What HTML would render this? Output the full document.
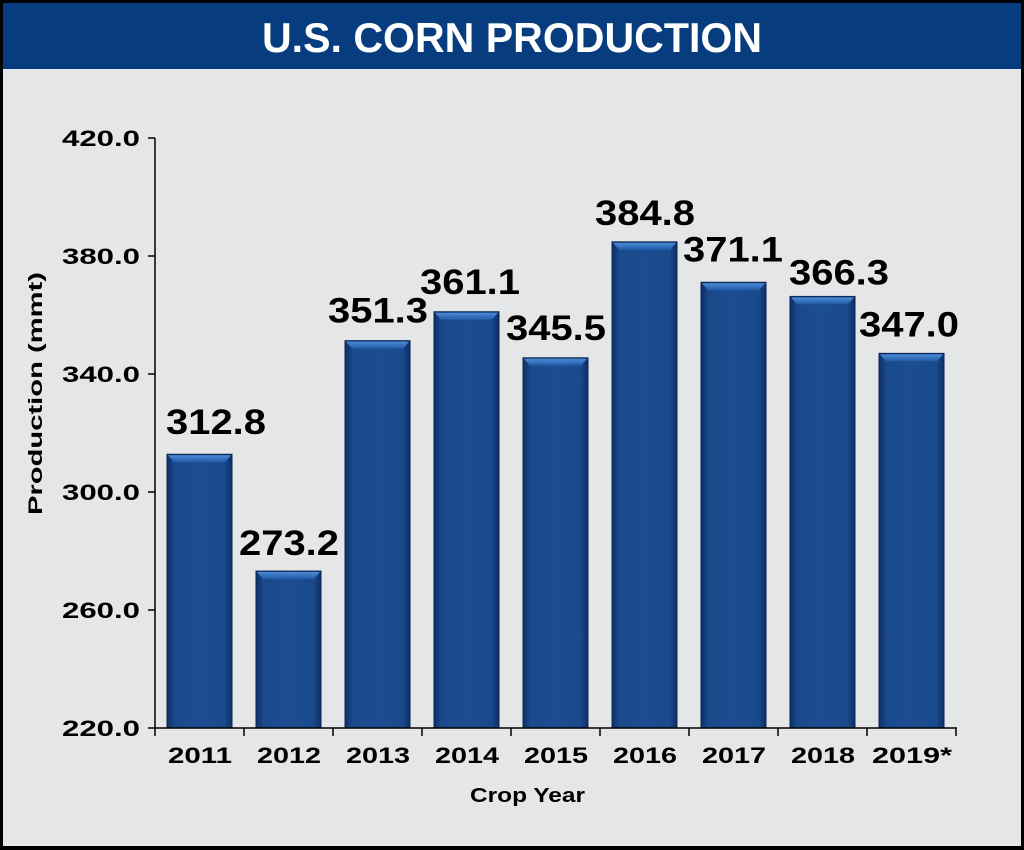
<!DOCTYPE html>
<html><head><meta charset="utf-8"><style>
body{margin:0;width:1024px;height:850px;overflow:hidden;background:#fff}
svg{display:block}
text{font-family:"Liberation Sans",Arial,sans-serif;font-weight:bold}
</style></head><body>
<svg width="1024" height="850" viewBox="0 0 1024 850">
<defs>
<linearGradient id="bg" x1="0" x2="1" y1="0" y2="0">
<stop offset="0" stop-color="#0e2f66"/><stop offset="0.12" stop-color="#1a4a8c"/>
<stop offset="0.5" stop-color="#1c4d91"/><stop offset="0.88" stop-color="#1a4a8c"/><stop offset="1" stop-color="#0e2f66"/>
</linearGradient>
<linearGradient id="tp" x1="0" x2="0" y1="0" y2="1">
<stop offset="0" stop-color="#4d8ad6"/><stop offset="1" stop-color="#1f5aa6"/>
</linearGradient>
</defs>
<rect x="0" y="0" width="1024" height="850" fill="#000"/>
<rect x="3" y="3" width="1018" height="843" fill="#e5e6e8"/>
<rect x="3" y="3" width="1018" height="66" fill="#073d7e"/>
<text x="262" y="52" font-size="42" fill="#fff" textLength="500" lengthAdjust="spacingAndGlyphs">U.S. CORN PRODUCTION</text>
<g id="bars"></g>
<line x1="155" y1="138" x2="155" y2="728" stroke="#000" stroke-width="1.5"/>
<line x1="148" y1="728" x2="957" y2="728" stroke="#000" stroke-width="1.5"/>
<g stroke="#000" stroke-width="1.5">
<line x1="148" y1="138" x2="155" y2="138"/><line x1="148" y1="256" x2="155" y2="256"/>
<line x1="148" y1="374" x2="155" y2="374"/><line x1="148" y1="492" x2="155" y2="492"/>
<line x1="148" y1="610" x2="155" y2="610"/>
<line x1="155" y1="728" x2="155" y2="736"/><line x1="244" y1="728" x2="244" y2="736"/>
<line x1="333" y1="728" x2="333" y2="736"/><line x1="422" y1="728" x2="422" y2="736"/>
<line x1="511" y1="728" x2="511" y2="736"/><line x1="600" y1="728" x2="600" y2="736"/>
<line x1="689" y1="728" x2="689" y2="736"/><line x1="778" y1="728" x2="778" y2="736"/>
<line x1="867" y1="728" x2="867" y2="736"/><line x1="956" y1="728" x2="956" y2="736"/>
</g>
<g font-size="22" fill="#000">
<text x="62" y="146" textLength="78" lengthAdjust="spacingAndGlyphs">420.0</text>
<text x="62" y="264" textLength="78" lengthAdjust="spacingAndGlyphs">380.0</text>
<text x="62" y="382" textLength="78" lengthAdjust="spacingAndGlyphs">340.0</text>
<text x="62" y="500" textLength="78" lengthAdjust="spacingAndGlyphs">300.0</text>
<text x="62" y="618" textLength="78" lengthAdjust="spacingAndGlyphs">260.0</text>
<text x="62" y="736" textLength="78" lengthAdjust="spacingAndGlyphs">220.0</text>
</g>
<text transform="translate(42,515) rotate(-90)" font-size="19" textLength="243" lengthAdjust="spacingAndGlyphs">Production (mmt)</text>
<text x="470" y="802" font-size="20" textLength="115" lengthAdjust="spacingAndGlyphs">Crop Year</text>
<g id="lbl" font-size="22"></g>
<g id="vals" font-size="35"></g>
</svg>
<script>
var d=[["2011",312.8,16,-20],["2012",273.2,0,-16],["2013",351.3,0,-18],["2014",361.1,3,-18],["2015",345.5,0,-18],["2016",384.8,0,-17],["2017",371.1,-1,-21],["2018",366.3,16,-12],["2019*",347.0,-3,-17]];
var ns="http://www.w3.org/2000/svg",b=document.getElementById("bars"),l=document.getElementById("lbl"),v=document.getElementById("vals");
function el(t,a,p,tx){var e=document.createElementNS(ns,t);for(var k in a)e.setAttribute(k,a[k]);if(tx)e.textContent=tx;p.appendChild(e);}
d.forEach(function(r,i){var x=167+89*i,y=728-(r[1]-220)*2.95,h=728-y;
el("rect",{x:x,y:y,width:65,height:h,fill:"url(#bg)",stroke:"#0b2652","stroke-width":1},b);
el("polygon",{points:(x+1)+","+(y+1)+" "+(x+64)+","+(y+1)+" "+(x+58)+","+(y+8)+" "+(x+7)+","+(y+8),fill:"url(#tp)"},b);
var lw=r[0].length>4?80:64;
el("text",{x:x+33-lw/2,y:763,textLength:lw,lengthAdjust:"spacingAndGlyphs"},l,r[0]);
el("text",{x:x+33+r[2]-50,y:y+r[3],textLength:100,lengthAdjust:"spacingAndGlyphs"},v,r[1].toFixed(1));});
</script>
</body></html>
